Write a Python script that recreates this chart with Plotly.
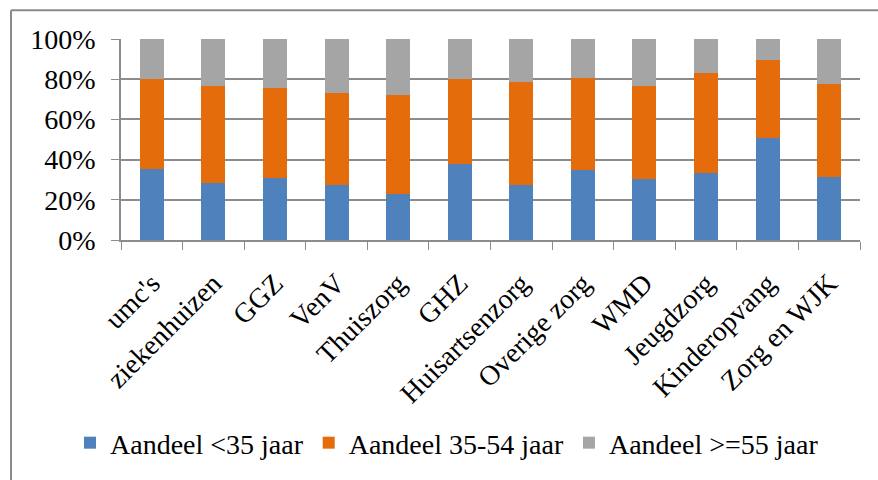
import plotly.graph_objects as go

categories = ["umc's", "ziekenhuizen", "GGZ", "VenV", "Thuiszorg", "GHZ",
              "Huisartsenzorg", "Overige zorg", "WMD", "Jeugdzorg",
              "Kinderopvang", "Zorg en WJK"]
# cumulative tops (fractions)
under35 = [0.355, 0.283, 0.308, 0.276, 0.229, 0.377,
           0.273, 0.350, 0.304, 0.332, 0.508, 0.314]
top_35_54 = [0.799, 0.766, 0.757, 0.732, 0.722, 0.803,
             0.786, 0.808, 0.765, 0.832, 0.895, 0.775]
mid35_54 = [round(t - u, 3) for t, u in zip(top_35_54, under35)]
over55 = [round(1 - t, 3) for t in top_35_54]

series_names = ["Aandeel <35 jaar", "Aandeel 35-54 jaar", "Aandeel >=55 jaar"]
colors = ["#4F81BD", "#E46C0A", "#A5A5A5"]

FONT = "Liberation Serif"
W, H = 878, 480
L, R, T, B = 121, 18, 39, 238
pw, ph = W - L - R, H - T - B

fig = go.Figure()
for name, vals, col in zip(series_names, [under35, mid35_54, over55], colors):
    fig.add_trace(go.Bar(x=categories, y=vals, name=name,
                         marker=dict(color=col, line=dict(width=0))))

def px_x(p):
    return (p - L) / pw

def px_y(p):
    return (H - B - p) / ph

border = "#8a8a8a"
fig.update_layout(
    width=W, height=H,
    margin=dict(l=L, r=R, t=T, b=B),
    barmode="stack", bargap=0.61,
    plot_bgcolor="white", paper_bgcolor="white",
    font=dict(family=FONT, size=28, color="black"),
    showlegend=True,
    legend=dict(orientation="h", x=px_x(70), y=px_y(447), xanchor="left",
                yanchor="middle", font=dict(family=FONT, size=28),
                traceorder="normal", itemwidth=30, tracegroupgap=0),
    shapes=[
        dict(type="line", xref="paper", yref="paper",
             x0=px_x(11), x1=px_x(W + 5), y0=px_y(10), y1=px_y(10),
             line=dict(color=border, width=2)),
        dict(type="line", xref="paper", yref="paper",
             x0=px_x(11), x1=px_x(11), y0=px_y(10), y1=px_y(H + 5),
             line=dict(color=border, width=2)),
    ],
)
fig.update_yaxes(range=[0, 1], dtick=0.2, tickformat=".0%",
                 showgrid=True, gridcolor="#8c8c8c", gridwidth=1.5,
                 showline=True, linecolor="#8c8c8c", linewidth=1.5,
                 ticks="outside", ticklen=8, tickcolor="#8c8c8c",
                 ticklabelstandoff=10, zeroline=False,
                 tickfont=dict(family=FONT, size=28))
fig.update_xaxes(tickangle=-45, showline=True, linecolor="#8c8c8c",
                 linewidth=1.5, ticks="outside", ticklen=8,
                 tickcolor="#8c8c8c", tickson="boundaries",
                 tickfont=dict(family=FONT, size=28), ticklabelstandoff=14)

fig.write_html("out.html")
